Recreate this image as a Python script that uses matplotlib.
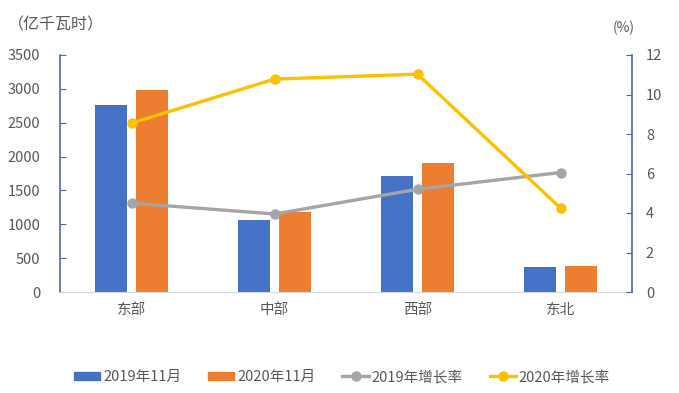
import matplotlib
matplotlib.use("Agg")
import matplotlib.pyplot as plt
import numpy as np
from matplotlib.lines import Line2D
from matplotlib.patches import Patch

plt.rcParams['font.family'] = ['Noto Sans CJK SC', 'DejaVu Sans']

categories = ['东部', '中部', '西部', '东北']
gen_2019 = [2760, 1065, 1710, 375]
gen_2020 = [2990, 1180, 1905, 388]
growth_2019 = [4.5, 3.95, 5.2, 6.05]
growth_2020 = [8.55, 10.78, 11.03, 4.25]
series_names = ['2019年11月', '2020年11月', '2019年增长率', '2020年增长率']

c_blue = '#4472C4'
c_orange = '#ED7D31'
c_gray = '#A5A5A5'
c_yellow = '#FFC000'
txt = '#595959'
axcol = '#4A6A9E'

fig = plt.figure(figsize=(6.79, 3.93), dpi=100)
ax = fig.add_axes([60/679, 1-292/393, 572/679, 237/393])
x = np.arange(len(categories))
w = 0.224
off = 0.143
ax.bar(x - off, gen_2019, w, color=c_blue, zorder=2)
ax.bar(x + off, gen_2020, w, color=c_orange, zorder=2)
ax.set_xlim(-0.5, 3.5)
ax.set_ylim(0, 3500)
ax.set_yticks(np.arange(0, 3501, 500))
ax.set_xticks(x)
ax.set_xticklabels(categories)

ax2 = ax.twinx()
ax2.plot(x, growth_2019, color=c_gray, lw=2.4, marker='o', ms=6.5, zorder=3)
ax2.plot(x, growth_2020, color=c_yellow, lw=2.4, marker='o', ms=6.5, zorder=3)
ax2.set_ylim(0, 12)
ax2.set_yticks(np.arange(0, 13, 2))

for a in (ax, ax2):
    a.spines['top'].set_visible(False)
    a.spines['left'].set_color(axcol)
    a.spines['right'].set_color(axcol)
    a.spines['bottom'].set_color('#D9D9D9')
    a.spines['left'].set_linewidth(1.2)
    a.spines['right'].set_linewidth(1.2)
ax.spines['right'].set_visible(False)
ax2.spines['left'].set_visible(False)
ax2.spines['bottom'].set_visible(False)

ax.tick_params(axis='y', direction='in', length=4, color=axcol, labelcolor=txt, labelsize=10.5, pad=14)
ax.tick_params(axis='x', length=0, labelcolor=txt, labelsize=10.5, pad=8)
ax2.tick_params(axis='y', direction='in', length=4, color=axcol, labelcolor=txt, labelsize=10.5, pad=10)

fig.text(8/679, 1-25/393, '（亿千瓦时）', color=txt, fontsize=11.5, va='center', ha='left')
fig.text(624/679, 1-28/393, '(%)', color=txt, fontsize=10, va='center', ha='center')

handles = [
    Patch(color=c_blue),
    Patch(color=c_orange),
    Line2D([], [], color=c_gray, lw=2.4, marker='o', ms=6.5),
    Line2D([], [], color=c_yellow, lw=2.4, marker='o', ms=6.5),
]
fig.legend(handles, series_names, loc='center', bbox_to_anchor=(342/679, 1-377/393), ncol=4,
           frameon=False, fontsize=10.5, labelcolor=txt, handlelength=1.8, handleheight=0.45,
           columnspacing=1.85, handletextpad=0.2)

fig.savefig('out.png', dpi=100)
